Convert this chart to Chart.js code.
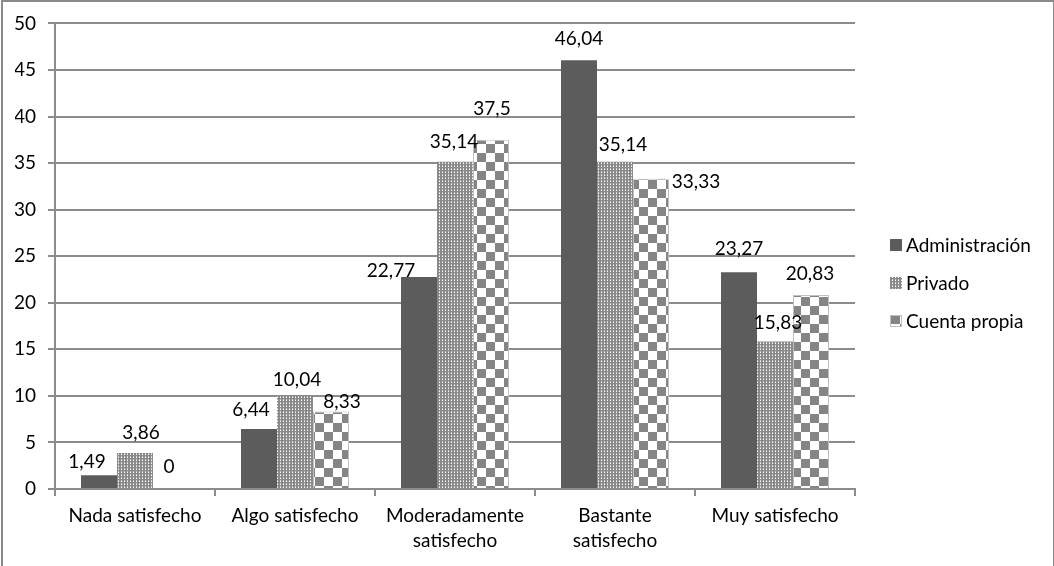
<!DOCTYPE html>
<html lang="es">
  <head>
    <meta charset="utf-8" />
    <script src="https://cdn.jsdelivr.net/npm/chart.js"></script>
    <title>index</title>
    <style>
      html, body { margin: 0; padding: 0; background: #fff; }
      #frame {
        position: absolute;
        left: 1px;
        top: 0px;
        width: 1050px;
        height: 600px;
        border: 2px solid #8a8a8a;
      }
      #wrap { position: absolute; left: 0; top: 0; width: 1054px; height: 566px; }
    </style>
  </head>
  <body>
    <div id="frame"></div>
    <div id="wrap"><canvas id="myChart"></canvas></div>
    <script>
      const categories = [
        "Nada satisfecho",
        ["Algo satisfecho"],
        ["Moderadamente", "satisfecho"],
        ["Bastante", "satisfecho"],
        "Muy satisfecho",
      ];
      const seriesNames = ["Administración", "Privado", "Cuenta propia"];
      const administracion = [1.49, 6.44, 22.77, 46.04, 23.27];
      const privado = [3.86, 10.04, 35.14, 35.14, 15.83];
      const cuentaPropia = [0, 8.33, 37.5, 33.33, 20.83];

      // label nudges (px) so the value labels sit where Excel put them
      const labelNudge = [
        [[-12, 6], [-8, 0], [-28, 13], [0, -2], [0, -4]],
        [[6, -1], [2, 3], [-1, -1], [8, 2], [3, 0]],
        [[-2, -3], [11, 9], [1, -12], [45, 22], [-1, -2]],
      ];

      const FONT = "Lato";

      function fmt(v) {
        return String(v).replace(".", ",");
      }

      function dotPattern() {
        const c = document.createElement("canvas");
        c.width = 3;
        c.height = 3;
        const g = c.getContext("2d");
        g.fillStyle = "#8a8a8a";
        g.fillRect(0, 0, 3, 3);
        g.fillStyle = "#ffffff";
        g.fillRect(1, 1, 1, 1);
        g.fillStyle = "#c8c8c8";
        g.fillRect(1, 0, 1, 1);
        return g.createPattern(c, "repeat");
      }

      function checkPattern() {
        const s = 9;
        const c = document.createElement("canvas");
        c.width = s * 2;
        c.height = s * 2;
        const g = c.getContext("2d");
        g.fillStyle = "#ffffff";
        g.fillRect(0, 0, s * 2, s * 2);
        g.fillStyle = "#858585";
        g.fillRect(0, 0, s, s);
        g.fillRect(s, s, s, s);
        return g.createPattern(c, "repeat");
      }

      // value labels + a legend drawn by hand (Excel style, right side)
      const extras = {
        id: "extras",
        afterDatasetsDraw(chart) {
          const ctx = chart.ctx;
          ctx.save();
          ctx.font = "19px " + FONT;
          ctx.fillStyle = "#000";
          ctx.textAlign = "center";
          ctx.textBaseline = "middle";
          chart.data.datasets.forEach((ds, di) => {
            chart.getDatasetMeta(di).data.forEach((bar, i) => {
              const n = labelNudge[di][i];
              ctx.fillText(fmt(ds.data[i]), bar.x + n[0], bar.y - 19 + n[1]);
            });
          });

          const lx = chart.chartArea.right + 35;
          let ly = 245;
          ctx.textAlign = "left";
          chart.data.datasets.forEach((ds) => {
            ctx.fillStyle = ds.backgroundColor;
            ctx.fillRect(lx, ly - 6, 12, 12);
            if (ds.borderWidth) {
              ctx.strokeStyle = ds.borderColor;
              ctx.lineWidth = 1;
              ctx.strokeRect(lx + 0.5, ly - 5.5, 11, 11);
            }
            ctx.fillStyle = "#000";
            ctx.fillText(ds.label, lx + 16, ly + 1);
            ly += 38;
          });
          ctx.restore();
        },
      };

      const gray = "#8c8c8c";

      const data = {
        labels: categories,
        datasets: [
          {
            label: seriesNames[0],
            data: administracion,
            backgroundColor: "#5c5c5c",
          },
          {
            label: seriesNames[1],
            data: privado,
            backgroundColor: dotPattern(),
          },
          {
            label: seriesNames[2],
            data: cuentaPropia,
            backgroundColor: checkPattern(),
            borderColor: "#c0c0c0",
            borderWidth: 1,
          },
        ],
      };

      const config = {
        type: "bar",
        data: data,
        options: {
          responsive: true,
          maintainAspectRatio: false,
          animation: false,
          datasets: {
            bar: { categoryPercentage: 0.675, barPercentage: 1 },
          },
          layout: { padding: { left: 15, top: 16, right: 199, bottom: 0 } },
          plugins: {
            tooltip: { enabled: false },
            legend: { display: false },
          },
          scales: {
            x: {
              grid: {
                offset: true,
                drawOnChartArea: false,
                color: gray,
                lineWidth: 2,
                tickLength: 7,
              },
              border: { color: gray, width: 2 },
              ticks: {
                color: "#000",
                padding: 8,
                maxRotation: 0,
                font: { family: FONT, size: 19, lineHeight: 1.3 },
              },
              afterFit(s) {
                s.height = 77;
              },
            },
            y: {
              min: 0,
              max: 50,
              ticks: {
                stepSize: 5,
                color: "#000",
                padding: 12,
                font: { family: FONT, size: 19 },
              },
              grid: { color: gray, lineWidth: 2, tickLength: 7 },
              border: { color: gray, width: 2 },
              afterFit(s) {
                s.width = 40;
              },
            },
          },
        },
        plugins: [extras],
      };

      var myChart = new Chart(document.getElementById("myChart"), config);
    </script>
  </body>
</html>
